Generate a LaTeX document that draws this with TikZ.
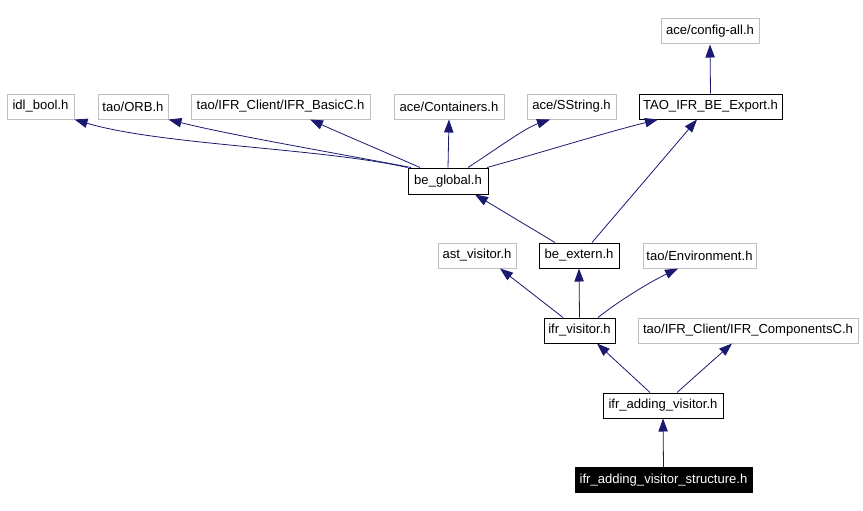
\documentclass[tikz,border=0pt]{standalone}
\usepackage{fontspec}
\setmainfont{Liberation Sans}
\usetikzlibrary{calc,arrows.meta}
\definecolor{edgeblue}{HTML}{191970}
\definecolor{greyb}{HTML}{BFBFBF}
\begin{document}
\begin{tikzpicture}[x=0.75pt,y=-0.75pt,
  box/.style={rectangle,draw,line width=0.75pt,inner sep=0pt,minimum height=18.75pt,font=\fontsize{9.8}{11}\selectfont,anchor=center},
  ext/.style={box,draw=greyb},
  loc/.style={box,draw=black},
  cur/.style={box,draw=black,fill=black,text=white},
  dep/.style={draw=edgeblue,line width=0.6pt,-{Triangle[length=9.75pt,width=7pt]},color=edgeblue}]
\useasboundingbox (0,0) rectangle (863,510);
\node[ext,minimum width=73.5pt] (cfg) at (710,31.5) {ace/config-all.h};
\node[ext,minimum width=50.25pt] (idl) at (40.5,106.5) {idl\_bool.h};
\node[ext,minimum width=52.5pt] (orb) at (133,106.5) {tao/ORB.h};
\node[ext,minimum width=134.25pt] (basic) at (280.5,106.5) {tao/IFR\_Client/IFR\_BasicC.h};
\node[ext,minimum width=82.5pt] (cont) at (449,106.5) {ace/Containers.h};
\node[ext,minimum width=66.75pt] (sstr) at (571.5,106.5) {ace/SString.h};
\node[loc,minimum width=107.25pt] (exp) at (710.5,106.5) {TAO\_IFR\_BE\_Export.h};
\node[loc,minimum width=60pt,minimum height=19.5pt] (bg) at (448,181) {be\_global.h};
\node[ext,minimum width=58.5pt] (ast) at (477,255.5) {ast\_visitor.h};
\node[loc,minimum width=60pt] (bex) at (579,255.5) {be\_extern.h};
\node[ext,minimum width=84.75pt] (env) at (699.5,255.5) {tao/Environment.h};
\node[loc,minimum width=53.25pt] (ifv) at (579.5,330.5) {ifr\_visitor.h};
\node[ext,minimum width=165pt] (comp) at (748,330.5) {tao/IFR\_Client/IFR\_ComponentsC.h};
\node[loc,minimum width=90pt] (add) at (663,405.5) {ifr\_adding\_visitor.h};
\node[cur,minimum width=132.75pt] (str) at (663.5,480) {ifr\_adding\_visitor\_structure.h};
% edges
\draw[dep] (bg.north west) .. controls (320,148) and (160,145) .. (idl.south east);
\draw[dep] ($(bg.north)+(-37,0)$) .. controls (330,152) and (230,135) .. (orb.south east);
\draw[dep] ($(bg.north)+(-28,0)$) .. controls (380,150) and (340,133) .. ($(basic.south)+(29.5,0)$);
\draw[dep] (bg.north) -- (cont.south);
\draw[dep] ($(bg.north)+(20,0)$) .. controls (495,150) and (525,128) .. ($(sstr.south)+(-21.5,0)$);
\draw[dep] ($(bg.north)+(39,0)$) .. controls (540,153) and (600,134) .. ($(exp.south)+(-52.5,0)$);
\draw[dep] (exp.north) -- (cfg.south);
\draw[dep] ($(bex.north)+(-24,0)$) -- ($(bg.south)+(27,0)$);
\draw[dep] ($(bex.north)+(13,0)$) -- ($(exp.south)+(-13.5,0)$);
\draw[dep] ($(ifv.north)+(-16.5,0)$) -- ($(ast.south)+(23,0)$);
\draw[dep] (ifv.north) -- (bex.south);
\draw[dep] ($(ifv.north)+(18.5,0)$) .. controls (620,300) and (650,282) .. ($(env.south)+(-21.5,0)$);
\draw[dep] ($(add.north)+(-13,0)$) -- ($(ifv.south)+(17.5,0)$);
\draw[dep] ($(add.north)+(14,0)$) -- ($(comp.south)+(-16,0)$);
\draw[dep] (str.north) -- (add.south);
\end{tikzpicture}
\end{document}
